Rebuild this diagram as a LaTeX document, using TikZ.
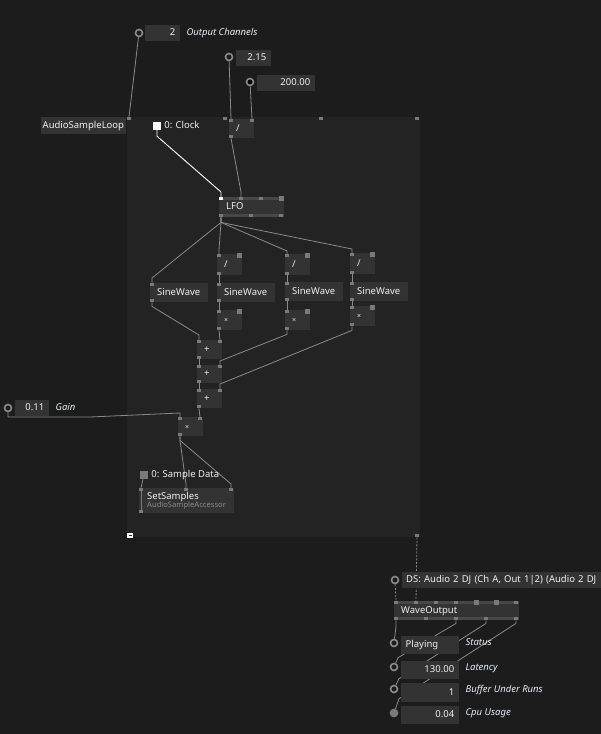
\documentclass[tikz,border=0pt]{standalone}
\usepackage{fontspec}
\setmainfont{Noto Sans}
\usetikzlibrary{positioning, calc}
\usepackage{xcolor}

\definecolor{bgc}{HTML}{1C1C1C}
\definecolor{patchc}{HTML}{232323}
\definecolor{boxc}{HTML}{333333}
\definecolor{stripec}{HTML}{474747}
\definecolor{pinc}{HTML}{7A7A7A}
\definecolor{ringc}{HTML}{8C8C8C}
\definecolor{linkc}{HTML}{8A8A8A}
\definecolor{txtc}{HTML}{F0F0F0}
\definecolor{lblc}{HTML}{E4ECFA}
\definecolor{subc}{HTML}{8C8C8C}

\pgfdeclarelayer{back}
\pgfdeclarelayer{links}
\pgfsetlayers{back,links,main}

\newcommand\vfont{\fontsize{9.5}{10}\selectfont}
% pins on top / bottom edge of a node, named <node>-t1.. and <node>-b1..
\newcommand\tpins[2]{\foreach \pinx [count=\pinn] in {#2} {\fill[pinc] ($(#1.north west)+(\pinx-2,0)$) rectangle ++(4,3); \coordinate (#1-t\pinn) at ($(#1.north west)+(\pinx,0)$);}}
\newcommand\bpins[2]{\foreach \pinx [count=\pinn] in {#2} {\fill[pinc] ($(#1.south west)+(\pinx-2,0)$) rectangle ++(4,-3); \coordinate (#1-b\pinn) at ($(#1.south west)+(\pinx,0)$);}}
\newcommand\bigpins[2]{\foreach \pinx in {#2} \fill[pinc] ($(#1.north west)+(\pinx-2.5,-1)$) rectangle ++(5,5);}

\begin{document}
\begin{tikzpicture}[x=1pt, y=-1pt,
    vbase/.style={fill=boxc, anchor=north west, inner xsep=7pt, inner ysep=0pt, align=left, font=\vfont, text=txtc},
    vnode/.style={vbase, text height=7pt, text depth=2pt},
    iobox/.style={fill=boxc, anchor=north west, inner xsep=5pt, inner ysep=0pt, minimum height=16pt, text height=7pt, text depth=2pt, align=right, font=\vfont, text=txtc},
    iolbl/.style={inner sep=0pt, text height=7pt, text depth=2pt, font=\vfont\itshape, text=lblc},
    portlbl/.style={inner sep=0pt, text height=7pt, text depth=2pt, font=\vfont, text=txtc},
    iopin/.style={circle, draw=ringc, line width=1.6pt, fill=bgc, minimum size=7pt, inner sep=0pt},
    link/.style={draw=linkc, line width=0.8pt},
    clk/.style={draw=white, line width=0.9pt},
    dlink/.style={draw=linkc, line width=0.8pt, dash pattern=on 2pt off 1.5pt},
    op/.style={font=\fontsize{7}{8}\selectfont},
]
\useasboundingbox (0,0) rectangle (601,734);
\begin{pgfonlayer}{back}
    \fill[bgc] (0,0) rectangle (601,734);
    \node[fill=patchc, anchor=north west, minimum width=293pt, minimum height=420pt, inner sep=0pt] (patch) at (127,117) {};
\end{pgfonlayer}
\tpins{patch}{2,98,194,290}
\bpins{patch}{290}
\fill[white] (127,533) rectangle (133,538);
\draw[patchc, line width=0.8pt] (128.5,535.5) -- (131.5,535.5);

\node[vnode, text width=82pt, minimum height=17pt, inner xsep=1.5pt] (loop) at (41,117) {AudioSampleLoop};

% inputs on top
\node[iopin] (och-c) at (139,33) {};
\node[iobox, text width=25pt] (och) at (145,25) {2};
\node[iolbl, right=6pt of och] (och-l) {Output Channels};
\node[iopin] (v215-c) at (229,57) {};
\node[iobox, text width=25pt] (v215) at (236,49.5) {2.15};
\node[iopin, fill=black] (v200-c) at (250,82) {};
\node[iobox, text width=48pt] (v200) at (257,75) {200.00};

\node[fill=white, minimum size=8pt, inner sep=0pt] (clock) at (157,126) {};
\node[portlbl, right=3pt of clock] (clock-l) {0: Clock};

\node[vnode, text width=11pt, minimum height=19pt, text=lblc] (div0) at (229,119) {/};
\tpins{div0}{2,23}
\bpins{div0}{2}

\node[vnode, text width=51pt, minimum height=20pt] (lfo) at (219,197) {LFO};
\fill[stripec] (lfo.north west) rectangle ++(65,3);
\fill[stripec] (lfo.south west) rectangle ++(65,-3);
\tpins{lfo}{2,22,42}
\bigpins{lfo}{62}
\fill[white] ($(lfo.north west)+(0,0)$) rectangle ++(4,3);
\bpins{lfo}{2,32,62}

% four sine voices
\node[vnode, text width=44pt, minimum height=19pt] (sw1) at (150,283) {SineWave};
\node[vnode, text width=11pt, minimum height=21pt, text=lblc] (div1) at (217,254) {/};
\node[vnode, text width=44pt, minimum height=19pt] (sw2) at (217,283) {SineWave};
\node[vnode, op, text width=11pt, minimum height=20pt] (mul1) at (217,310) {×};
\node[vnode, text width=11pt, minimum height=21pt, text=lblc] (div2) at (285,254) {/};
\node[vnode, text width=44pt, minimum height=19pt] (sw3) at (285,282) {SineWave};
\node[vnode, op, text width=11pt, minimum height=20pt] (mul2) at (285,310) {×};
\node[vnode, text width=11pt, minimum height=21pt, text=lblc] (div3) at (350,253) {/};
\node[vnode, text width=44pt, minimum height=19pt] (sw4) at (350,282) {SineWave};
\node[vnode, op, text width=11pt, minimum height=20pt] (mul3) at (350,306) {×};
\tpins{sw1}{2} \bpins{sw1}{2}
\tpins{sw2}{2} \bpins{sw2}{2}
\tpins{sw3}{2} \bpins{sw3}{2}
\tpins{sw4}{2} \bpins{sw4}{2}
\tpins{div1}{2} \bigpins{div1}{22} \bpins{div1}{2}
\tpins{div2}{2} \bigpins{div2}{22} \bpins{div2}{2}
\tpins{div3}{2} \bigpins{div3}{22} \bpins{div3}{2}
\tpins{mul1}{2} \bigpins{mul1}{22} \bpins{mul1}{2}
\tpins{mul2}{2} \bigpins{mul2}{22} \bpins{mul2}{2}
\tpins{mul3}{2} \bigpins{mul3}{22} \bpins{mul3}{2}

% mixing
\node[vnode, text width=11pt, minimum height=19pt] (add1) at (197,340) {+};
\node[vnode, text width=11pt, minimum height=18pt] (add2) at (197,365) {+};
\node[vnode, text width=11pt, minimum height=19pt] (add3) at (197,389) {+};
\node[vnode, op, text width=11pt, minimum height=19pt] (gmul) at (178,417) {×};
\tpins{add1}{2,23} \bpins{add1}{2}
\tpins{add2}{2,23} \bpins{add2}{2}
\tpins{add3}{2,23} \bpins{add3}{2}
\tpins{gmul}{2,22} \bpins{gmul}{2}

\node[iopin] (gain-c) at (8,408) {};
\node[iobox, text width=24pt] (gain) at (15,400) {0.11};
\node[iolbl, right=6pt of gain] (gain-l) {Gain};

\node[fill=pinc, minimum size=8pt, inner sep=0pt] (sdata) at (144,475) {};
\node[portlbl, right=3pt of sdata] (sdata-l) {0: Sample Data};
\node[vbase, text width=79pt, minimum height=25pt, inner xsep=8pt] (setS) at (139,488) {SetSamples\\[-1.5pt]{\fontsize{7.6}{8}\selectfont\color{subc}AudioSampleAccessor}};
\draw[pinc, line width=1pt] ($(setS.north west)+(2,0)$) -- ($(setS.south west)+(2,0)$);
\tpins{setS}{2,47,92} \bpins{setS}{2}

% output
\node[iopin] (ds-c) at (395,580) {};
\node[iobox, text width=195pt, align=left, inner xsep=4pt] (ds) at (402,572) {DS: Audio 2 DJ (Ch A, Out 1|2) (Audio 2 DJ};
\node[vnode, text width=111pt, minimum height=19pt] (wave) at (394,601) {WaveOutput};
\fill[stripec] (wave.north west) rectangle ++(125,3);
\fill[stripec] (wave.south west) rectangle ++(125,-3);
\tpins{wave}{2,22,42,62,122}
\bigpins{wave}{82,102}
\bpins{wave}{2,32,62,92,122}

\node[iopin] (stat-c) at (394,643) {};
\node[iobox, text width=49pt, align=left, minimum height=18pt, inner xsep=4.5pt] (stat) at (401,636) {Playing};
\node[iolbl, right=6pt of stat, yshift=2.5pt] (stat-l) {Status};
\node[iopin] (lat-c) at (394,667) {};
\node[iobox, text width=48pt, minimum height=18pt] (lat) at (401,661) {130.00};
\node[iolbl, right=6pt of lat, yshift=2.5pt] (lat-l) {Latency};
\node[iopin] (bur-c) at (394,689) {};
\node[iobox, text width=48pt, minimum height=19pt] (bur) at (401,683) {1};
\node[iolbl, right=6pt of bur, yshift=2.5pt] (bur-l) {Buffer Under Runs};
\node[iopin, fill=pinc, draw=pinc] (cpu-c) at (394,713) {};
\node[iobox, text width=48pt, minimum height=18pt] (cpu) at (401,706) {0.04};
\node[iolbl, right=6pt of cpu, yshift=2.5pt] (cpu-l) {Cpu Usage};

\begin{pgfonlayer}{links}
    \draw[link] (och-c) -- (patch-t1);
    \draw[link] (v215-c) -- (div0-t1);
    \draw[link] (v200-c) -- (div0-t2);
    \draw[link] (div0-b1) -- ([yshift=5pt]lfo-t2) -- (lfo-t2);
    \draw[clk] (clock.south) -- ++(0,6) -- ([yshift=5pt]lfo-t1) -- (lfo-t1);

    \draw[link] (lfo-b1) -- ++(0,5) -- ([yshift=5pt]sw1-t1) -- (sw1-t1);
    \draw[link] (lfo-b1) -- ++(0,5) -- ([yshift=4pt]div1-t1) -- (div1-t1);
    \draw[link] (lfo-b1) -- ++(0,5) -- ([yshift=3pt]div2-t1) -- (div2-t1);
    \draw[link] (lfo-b1) -- ++(0,5) -- ([yshift=4pt]div3-t1) -- (div3-t1);
    \draw[link] (div1-b1) -- (sw2-t1);
    \draw[link] (sw2-b1) -- (mul1-t1);
    \draw[link] (div2-b1) -- (sw3-t1);
    \draw[link] (sw3-b1) -- (mul2-t1);
    \draw[link] (div3-b1) -- (sw4-t1);
    \draw[link] (sw4-b1) -- (mul3-t1);

    \draw[link] (sw1-b1) -- ++(0,4) -- ([yshift=5pt]add1-t1) -- (add1-t1);
    \draw[link] (mul1-b1) -- (add1-t2);
    \draw[link] (mul2-b1) -- ++(0,4) -- ([yshift=4pt]add2-t2) -- (add2-t2);
    \draw[link] (mul3-b1) -- ++(0,4) -- ([yshift=5pt]add3-t2) -- (add3-t2);
    \draw[link] (add1-b1) -- (add2-t1);
    \draw[link] (add2-b1) -- (add3-t1);
    \draw[link] (add3-b1) -- (gmul-t2);
    \draw[link] (gain-c) -- ++(0,9) -- ++(82,0) -- ([yshift=4pt]gmul-t1) -- (gmul-t1);
    \draw[link] (gmul-b1) -- ++(0,4) -- ([yshift=4pt]setS-t2) -- (setS-t2);
    \draw[link] (gmul-b1) -- ++(0,4) -- ([yshift=4pt]setS-t3) -- (setS-t3);
    \draw[link] (sdata) -- (setS-t1);

    \draw[dlink] (patch-b1) -- (wave-t2);
    \draw[dlink] (ds-c) -- (wave-t1);
    \draw[link] (wave-b1) -- ++(0,6) -- (stat-c);
    \draw[link] (wave-b3) -- ++(0,3) -- ([xshift=4pt,yshift=5pt]lat-c.north) -- (lat-c);
    \draw[link] (wave-b4) -- ++(0,3) -- ([xshift=5pt,yshift=6pt]bur-c.north) -- (bur-c);
    \draw[link] (wave-b5) -- ++(0,3) -- ([xshift=5pt,yshift=10pt]cpu-c.north) -- (cpu-c);
\end{pgfonlayer}
\end{tikzpicture}
\end{document}
